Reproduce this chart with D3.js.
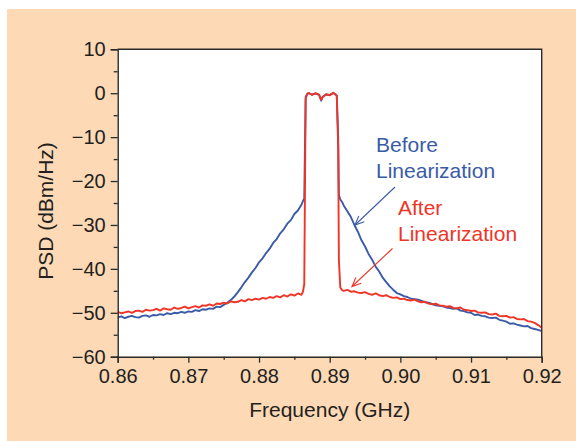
<!DOCTYPE html>
<html>
<head>
<meta charset="utf-8">
<script src="https://cdn.jsdelivr.net/npm/d3@7"></script>
<style>
  html, body { margin: 0; padding: 0; background: #ffffff; }
  svg { display: block; font-family: "Liberation Sans", Arial, Helvetica, sans-serif; }
</style>
</head>
<body>
<svg id="chart" width="576" height="441"></svg>
<script>
// Frequency grid (GHz)
const freqLeft = [
  0.8600, 0.8605, 0.8610, 0.8615, 0.8620, 0.8625, 0.8630, 0.8635, 0.8640, 0.8645,
  0.8650, 0.8655, 0.8660, 0.8665, 0.8670, 0.8675, 0.8680, 0.8685, 0.8690, 0.8695,
  0.8700, 0.8705, 0.8710, 0.8715, 0.8720, 0.8725, 0.8730, 0.8735, 0.8740, 0.8745,
  0.8750, 0.8755, 0.8760, 0.8765, 0.8770, 0.8775, 0.8780, 0.8785, 0.8790, 0.8795,
  0.8800, 0.8805, 0.8810, 0.8815, 0.8820, 0.8825, 0.8830, 0.8835, 0.8840, 0.8845,
  0.8850, 0.8855, 0.8860
];
const freqChannel = [
  0.8862, 0.8864, 0.8865, 0.8866, 0.8868, 0.8870, 0.8875, 0.8880, 0.8885, 0.8888,
  0.8890, 0.8895, 0.8900, 0.8905, 0.8908, 0.8910, 0.8912, 0.8913, 0.8915, 0.8918
];
const freqRight = [
  0.8920, 0.8925, 0.8930, 0.8935, 0.8940, 0.8945, 0.8950, 0.8955, 0.8960, 0.8965,
  0.8970, 0.8975, 0.8980, 0.8985, 0.8990, 0.8995, 0.9000, 0.9005, 0.9010, 0.9015,
  0.9020, 0.9025, 0.9030, 0.9035, 0.9040, 0.9045, 0.9050, 0.9055, 0.9060, 0.9065,
  0.9070, 0.9075, 0.9080, 0.9085, 0.9090, 0.9095, 0.9100, 0.9105, 0.9110, 0.9115,
  0.9120, 0.9125, 0.9130, 0.9135, 0.9140, 0.9145, 0.9150, 0.9155, 0.9160, 0.9165,
  0.9170, 0.9175, 0.9180, 0.9185, 0.9190, 0.9195, 0.9200
];

// PSD before linearization (dBm/Hz)
const beforeLeft = [
  -51.1, -50.8, -51.2, -50.9, -50.7, -51.0, -51.1, -50.7, -50.6, -50.9,
  -50.5, -50.6, -50.3, -50.5, -50.1, -50.3, -50.0, -50.1, -49.8, -50.0,
  -49.7, -49.8, -49.4, -49.6, -49.2, -49.3, -49.0, -49.1, -48.6, -48.7,
  -48.2, -47.7, -47.1, -46.3, -45.3, -44.2, -43.0, -42.0, -40.8, -39.8,
  -38.5, -37.6, -36.4, -35.4, -34.1, -33.2, -31.9, -31.0, -29.7, -28.9,
  -27.5, -26.7, -25.4
];
const beforeChannel = [
  -24.6, -24.0, -12.0, -0.8, -0.2, 0.0, -0.3, -0.1, -0.4, -1.7,
  -0.8, -0.3, -0.4, 0.0, -0.2, -0.5, -10.0, -23.2, -24.2, -24.9
];
const beforeRight = [
  -25.6, -26.9, -28.2, -30.0, -31.6, -33.5, -34.9, -36.6, -37.9, -39.5,
  -40.6, -42.0, -43.0, -44.0, -44.8, -45.5, -45.8, -46.2, -46.4, -46.8,
  -46.9, -47.0, -47.3, -47.6, -47.7, -48.0, -48.3, -48.4, -48.5, -48.8,
  -48.9, -49.1, -49.0, -49.5, -49.6, -49.9, -50.0, -50.5, -50.4, -50.7,
  -50.8, -51.1, -51.2, -51.1, -51.6, -51.8, -52.0, -52.5, -52.4, -52.7,
  -52.9, -53.1, -53.0, -53.5, -53.7, -53.9, -54.2
];

// PSD after linearization (dBm/Hz)
const afterLeft = [
  -49.8, -50.1, -49.9, -49.7, -50.0, -49.6, -49.5, -49.8, -49.3, -49.5,
  -49.4, -49.1, -49.5, -49.0, -49.2, -49.3, -48.8, -49.1, -48.9, -48.6,
  -49.0, -48.7, -48.5, -48.8, -48.3, -48.4, -48.1, -48.4, -47.9, -48.0,
  -47.7, -47.9, -47.4, -47.6, -47.5, -47.1, -47.4, -46.9, -47.1, -46.8,
  -47.0, -46.6, -46.8, -46.4, -46.6, -46.2, -46.5, -46.0, -46.3, -45.8,
  -46.1, -45.6, -45.9
];
const afterChannel = [
  -45.3, -43.5, -22.0, -1.2, -0.3, 0.1, -0.4, 0.0, -0.3, -1.5,
  -0.9, -0.2, -0.5, 0.1, -0.3, -0.6, -12.0, -38.0, -44.3, -44.9
];
const afterRight = [
  -45.0, -44.8, -45.2, -45.1, -45.4, -45.5, -45.3, -45.7, -45.9, -45.6,
  -46.0, -46.2, -46.0, -46.4, -46.6, -46.5, -46.9, -46.8, -47.1, -47.2,
  -47.0, -47.4, -47.6, -47.5, -47.9, -48.1, -47.9, -48.3, -48.4, -48.6,
  -48.5, -48.9, -49.0, -48.8, -49.3, -49.4, -49.6, -49.5, -49.9, -50.0,
  -49.9, -50.3, -50.4, -50.2, -50.7, -50.8, -50.7, -51.1, -51.0, -51.4,
  -51.5, -51.4, -51.9, -52.0, -52.3, -52.8, -53.4
];

// Axis ticks
const xTicks = [0.86, 0.87, 0.88, 0.89, 0.90, 0.91, 0.92];
const xTickLabels = ["0.86", "0.87", "0.88", "0.89", "0.90", "0.91", "0.92"];
const xMinorTicks = [0.865, 0.875, 0.885, 0.895, 0.905, 0.915];
const yTicks = [10, 0, -10, -20, -30, -40, -50, -60];
const yTickLabels = ["10", "0", "\u221210", "\u221220", "\u221230", "\u221240", "\u221250", "\u221260"];
const yMinorTicks = [5, -5, -15, -25, -35, -45, -55];

const freq = freqLeft.concat(freqChannel, freqRight);
const before = beforeLeft.concat(beforeChannel, beforeRight);
const after = afterLeft.concat(afterChannel, afterRight);

const BLUE = "#3a5ba8";
const RED = "#ee3526";
const AXIS = "#2b2b2b";

const svg = d3.select("#chart");

// Panel background
svg.append("rect")
  .attr("x", 7).attr("y", 9).attr("width", 569).attr("height", 432)
  .attr("fill", "#fdd9b5");

const plot = { left: 117.7, right: 541.7, top: 49.3, bottom: 356.7 };

const x = d3.scaleLinear().domain([0.86, 0.92]).range([plot.left, plot.right]);
const y = d3.scaleLinear().domain([-60, 10]).range([plot.bottom, plot.top]);

svg.append("rect")
  .attr("x", plot.left).attr("y", plot.top)
  .attr("width", plot.right - plot.left).attr("height", plot.bottom - plot.top)
  .attr("fill", "#ffffff");

svg.append("defs").append("clipPath").attr("id", "plotClip")
  .append("rect")
  .attr("x", plot.left).attr("y", plot.top)
  .attr("width", plot.right - plot.left).attr("height", plot.bottom - plot.top);

const line = d3.line()
  .x((d, i) => x(freq[i]))
  .y(d => y(d));

const traces = svg.append("g").attr("clip-path", "url(#plotClip)");
traces.append("path")
  .datum(before)
  .attr("fill", "none")
  .attr("stroke", BLUE)
  .attr("stroke-width", 1.9)
  .attr("stroke-linejoin", "round")
  .attr("d", line);
traces.append("path")
  .datum(after)
  .attr("fill", "none")
  .attr("stroke", RED)
  .attr("stroke-width", 1.9)
  .attr("stroke-linejoin", "round")
  .attr("d", line);

// Frame (top and right)
svg.append("path")
  .attr("d", `M${plot.left},${plot.top}H${plot.right}V${plot.bottom}`)
  .attr("fill", "none").attr("stroke", AXIS).attr("stroke-width", 1.4);

// X axis
const xAxis = svg.append("g")
  .attr("transform", `translate(0,${plot.bottom})`)
  .call(d3.axisBottom(x).tickValues(xTicks)
    .tickFormat((d, i) => xTickLabels[i])
    .tickSize(6).tickPadding(6));
svg.append("g")
  .attr("transform", `translate(0,${plot.bottom})`)
  .call(d3.axisBottom(x).tickValues(xMinorTicks).tickFormat("").tickSize(3))
  .call(g => g.select(".domain").remove())
  .selectAll("line").attr("stroke", AXIS).attr("stroke-width", 1.3);

// Y axis
const yAxis = svg.append("g")
  .attr("transform", `translate(${plot.left},0)`)
  .call(d3.axisLeft(y).tickValues(yTicks)
    .tickFormat((d, i) => yTickLabels[i])
    .tickSize(7).tickPadding(5));
svg.append("g")
  .attr("transform", `translate(${plot.left},0)`)
  .call(d3.axisLeft(y).tickValues(yMinorTicks).tickFormat("").tickSize(4))
  .call(g => g.select(".domain").remove())
  .selectAll("line").attr("stroke", AXIS).attr("stroke-width", 1.3);

[xAxis, yAxis].forEach(g => {
  g.select(".domain").attr("stroke", AXIS).attr("stroke-width", 1.4);
  g.selectAll(".tick line").attr("stroke", AXIS).attr("stroke-width", 1.3);
  g.selectAll(".tick text")
    .attr("fill", "#231f20")
    .style("font-family", "'Liberation Sans', Arial, sans-serif")
    .style("font-size", "20px");
});

// Axis titles
svg.append("text")
  .attr("x", (plot.left + plot.right) / 2)
  .attr("y", 416.5)
  .attr("text-anchor", "middle")
  .attr("fill", "#231f20")
  .style("font-size", "21px")
  .text("Frequency (GHz)");

svg.append("text")
  .attr("transform", `translate(53,${(plot.top + plot.bottom) / 2 + 8}) rotate(-90)`)
  .attr("text-anchor", "middle")
  .attr("fill", "#231f20")
  .style("font-size", "21px")
  .text("PSD (dBm/Hz)");

// Annotations
const defs = svg.select("defs");
function arrowMarker(id, color) {
  defs.append("marker")
    .attr("id", id)
    .attr("viewBox", "-10 -6 12 12")
    .attr("refX", 0).attr("refY", 0)
    .attr("markerWidth", 12).attr("markerHeight", 12)
    .attr("markerUnits", "userSpaceOnUse")
    .attr("orient", "auto")
    .append("path")
    .attr("d", "M-9,-4L0,0L-9,4")
    .attr("fill", "none")
    .attr("stroke", color)
    .attr("stroke-width", 1.1);
}
arrowMarker("arrowBlue", BLUE);
arrowMarker("arrowRed", RED);

const notes = [
  { lines: ["Before", "Linearization"], color: BLUE, tx: 376, ty: 152,
    from: [395, 187], to: [355, 225], marker: "arrowBlue" },
  { lines: ["After", "Linearization"], color: RED, tx: 398, ty: 215,
    from: [392.5, 248.5], to: [352, 286.5], marker: "arrowRed" }
];

notes.forEach(n => {
  const t = svg.append("text")
    .attr("x", n.tx).attr("y", n.ty)
    .attr("fill", n.color)
    .style("font-size", "21px");
  n.lines.forEach((s, i) => {
    t.append("tspan").attr("x", n.tx).attr("dy", i === 0 ? 0 : 25.5).text(s);
  });
  svg.append("line")
    .attr("x1", n.from[0]).attr("y1", n.from[1])
    .attr("x2", n.to[0]).attr("y2", n.to[1])
    .attr("stroke", n.color).attr("stroke-width", 1.1)
    .attr("marker-end", `url(#${n.marker})`);
});
</script>
</body>
</html>
